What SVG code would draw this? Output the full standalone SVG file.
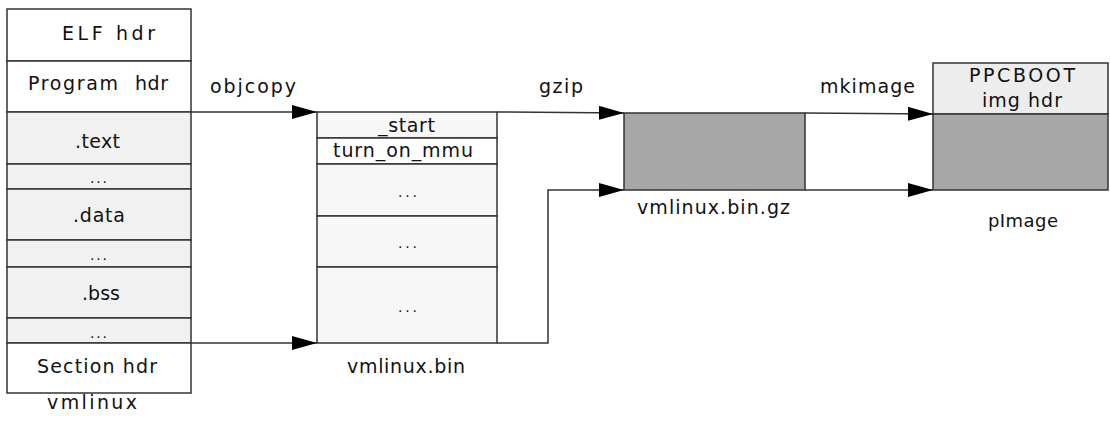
<svg xmlns="http://www.w3.org/2000/svg" width="1110" height="421" viewBox="0 0 1110 421">
<defs>
<style>
text{font-family:"DejaVu Sans","Liberation Sans",Arial,sans-serif;font-size:19px;fill:#111}
.box{stroke:#333;stroke-width:1.5;fill:#fff}
.lt{stroke:#333;stroke-width:1.5;fill:#f1f1f1}
.vl{stroke:#333;stroke-width:1.5;fill:#f7f7f7}
.dk{stroke:#333;stroke-width:1.5;fill:#a7a7a7}
.hd{stroke:#333;stroke-width:1.5;fill:#ededed}
.ln{stroke:#333;stroke-width:1.5;fill:none}
.dots{font-size:14px}
.sm{font-size:18px}
</style>
<marker id="arr" markerUnits="userSpaceOnUse" markerWidth="26" markerHeight="14" refX="25" refY="7" orient="auto">
<path d="M0,0 L25,7 L0,14 Z" fill="#000"/>
</marker>
</defs>
<rect width="1110" height="421" fill="#fff"/>

<g id="vmlinux">
<rect class="box" x="7" y="9" width="184" height="52"/>
<rect class="box" x="7" y="61" width="184" height="51"/>
<rect class="lt" x="7" y="112" width="184" height="52"/>
<rect class="lt" x="7" y="164" width="184" height="25"/>
<rect class="lt" x="7" y="189" width="184" height="51"/>
<rect class="lt" x="7" y="240" width="184" height="27"/>
<rect class="lt" x="7" y="267" width="184" height="51"/>
<rect class="lt" x="7" y="318" width="184" height="25"/>
<rect class="box" x="7" y="343" width="184" height="50"/>
<text x="62" y="40" textLength="93" lengthAdjust="spacing">ELF hdr</text>
<text y="90"><tspan x="28" textLength="90" lengthAdjust="spacing">Program</tspan> <tspan x="135" textLength="33" lengthAdjust="spacing">hdr</tspan></text>
<text x="75" y="148" textLength="45" lengthAdjust="spacing">.text</text>
<text class="dots" x="90" y="183" textLength="17" lengthAdjust="spacing">...</text>
<text x="73" y="222" textLength="52" lengthAdjust="spacing">.data</text>
<text class="dots" x="90" y="260" textLength="17" lengthAdjust="spacing">...</text>
<text x="82" y="300" textLength="38" lengthAdjust="spacing">.bss</text>
<text class="dots" x="90" y="338" textLength="17" lengthAdjust="spacing">...</text>
<text x="37" y="373" textLength="120" lengthAdjust="spacing">Section hdr</text>
<text x="47" y="409" textLength="90" lengthAdjust="spacing">vmlinux</text>
</g>

<g id="vmlinux_bin">
<rect class="vl" x="317" y="112" width="180" height="26"/>
<rect class="box" x="317" y="138" width="180" height="26"/>
<rect class="vl" x="317" y="164" width="180" height="52"/>
<rect class="vl" x="317" y="216" width="180" height="51"/>
<rect class="vl" x="317" y="267" width="180" height="76"/>
<text x="378" y="132" textLength="57" lengthAdjust="spacing">_start</text>
<text x="333" y="157" textLength="140" lengthAdjust="spacing">turn_on_mmu</text>
<text class="dots" x="398" y="197" textLength="19" lengthAdjust="spacing">...</text>
<text class="dots" x="398" y="248" textLength="19" lengthAdjust="spacing">...</text>
<text class="dots" x="398" y="312" textLength="19" lengthAdjust="spacing">...</text>
<text x="347" y="373" textLength="118" lengthAdjust="spacing">vmlinux.bin</text>
</g>

<g id="vmlinux_bin_gz">
<rect class="dk" x="624" y="113" width="181" height="77"/>
<text x="637" y="214" textLength="153" lengthAdjust="spacing">vmlinux.bin.gz</text>
</g>

<g id="pImage">
<rect class="hd" x="933" y="63" width="175" height="51"/>
<rect class="dk" x="933" y="114" width="175" height="76"/>
<text x="969" y="82" textLength="106" lengthAdjust="spacing">PPCBOOT</text>
<text x="982" y="107" textLength="80" lengthAdjust="spacing">img hdr</text>
<text class="sm" x="988" y="227" textLength="70" lengthAdjust="spacing">pImage</text>
</g>

<g id="connectors">
<line class="ln" x1="191" y1="112" x2="317" y2="112" marker-end="url(#arr)"/>
<line class="ln" x1="191" y1="343" x2="317" y2="343" marker-end="url(#arr)"/>
<line class="ln" x1="497" y1="112" x2="624" y2="113" marker-end="url(#arr)"/>
<polyline class="ln" points="497,343 548,343 548,190 624,190" marker-end="url(#arr)"/>
<line class="ln" x1="805" y1="113" x2="933" y2="114" marker-end="url(#arr)"/>
<line class="ln" x1="805" y1="190" x2="933" y2="190" marker-end="url(#arr)"/>
<text x="210" y="93" textLength="86" lengthAdjust="spacing">objcopy</text>
<text x="539" y="93" textLength="44" lengthAdjust="spacing">gzip</text>
<text x="820" y="93" textLength="95" lengthAdjust="spacing">mkimage</text>
</g>
</svg>
